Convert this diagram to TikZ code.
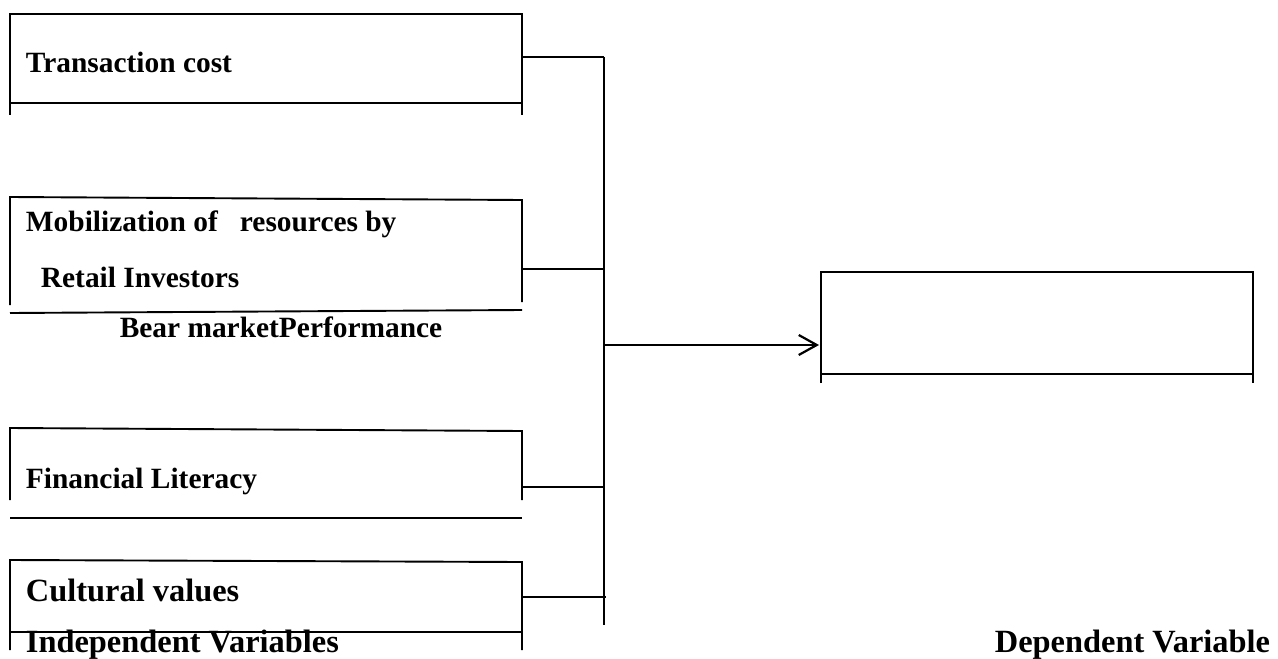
\documentclass[tikz,border=0pt]{standalone}
\usepackage{fontspec}
\setmainfont{Liberation Serif}
\usetikzlibrary{arrows.meta}
\tikzset{
  lbl/.style={anchor=west, inner sep=0pt, font=\bfseries\fontsize{14.7}{17}\selectfont},
  biglbl/.style={lbl, font=\bfseries\fontsize{16.2}{19}\selectfont},
  frame/.style={line width=0.95pt},
}
\begin{document}
\begin{tikzpicture}[x=0.5pt,y=-0.5pt]
\useasboundingbox (0,0) rectangle (1278,658);
\begin{scope}[frame]
% transaction cost box
\draw (10,115) -- (10,14) -- (522,14) -- (522,115);
\draw (10,103) -- (522,103);
\node[lbl] (tc) at (25,62) {Transaction cost};
\coordinate (tc-out) at (522,57);
% mobilization box
\draw (10,305) -- (10,197) -- (522,200) -- (522,302);
\draw (10,313) -- (522,310);
\node[lbl] (mob) at (25,224) {Mobilization of \ \ resources by};
\node[lbl] (ret) at (40,277) {Retail Investors};
\coordinate (mob-out) at (522,269);
\node[lbl, anchor=center] (bear) at (281,327) {Bear marketPerformance};
% financial literacy box
\draw (10,500) -- (10,428) -- (522,431) -- (522,500);
\draw (10,518) -- (522,518);
\node[lbl] (fin) at (25,481) {Financial Literacy};
\coordinate (fin-out) at (522,487);
% cultural values box
\draw (10,650) -- (10,560) -- (522,562) -- (522,650);
\draw (10,632) -- (522,632);
\node[biglbl] (cult) at (25,590) {Cultural values};
\coordinate (cult-out) at (522,597);
\node[biglbl] (indep) at (25,645) {Independent Variables};
% dependent variable box
\draw (821,383) -- (821,272) -- (1253,272) -- (1253,383);
\draw (821,374) -- (1253,374);
\coordinate (dep-in) at (819,345);
\node[biglbl, anchor=east] (dep) at (1271,645) {Dependent Variable};
% bus
\coordinate (bus-top) at (604,57);
\coordinate (bus-bot) at (604,625);
\coordinate (bus-mid) at (604,345);
\draw (bus-top) -- (bus-bot);
\draw (tc-out) -- (bus-top);
\draw (mob-out) -- (mob-out -| bus-top);
\draw (fin-out) -- (fin-out -| bus-top);
\draw (cult-out) -- ([xshift=1pt]cult-out -| bus-top);
\draw[line width=1.1pt, -{Straight Barb[length=9pt,width=10pt,line width=1.1pt]}] (bus-mid) -- (dep-in);
\end{scope}
\end{tikzpicture}
\end{document}
